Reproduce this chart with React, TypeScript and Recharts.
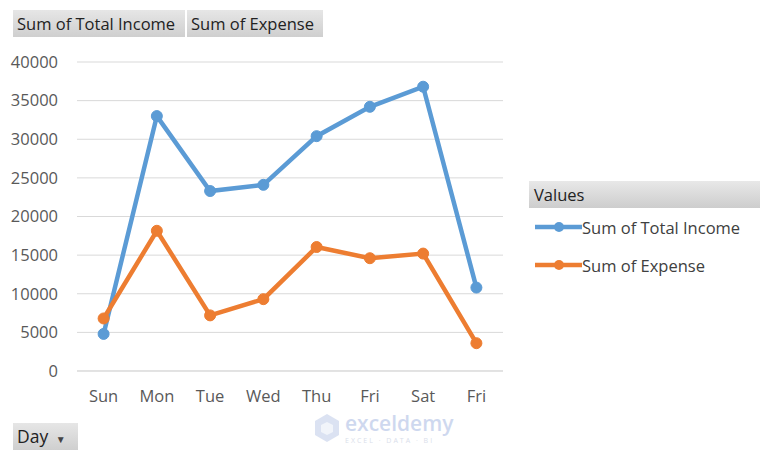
import { LineChart, Line, CartesianGrid, XAxis, YAxis, Legend } from 'recharts';

const days = ['Sun', 'Mon', 'Tue', 'Wed', 'Thu', 'Fri', 'Sat', 'Fri'];
const totalIncome = [4800, 33000, 23300, 24100, 30400, 34200, 36800, 10800];
const expense = [6800, 18150, 7200, 9300, 16050, 14600, 15200, 3600];
const yTicks = [0, 5000, 10000, 15000, 20000, 25000, 30000, 35000, 40000];

const BLUE = '#5b9bd5';
const ORANGE = '#ed7d31';
const FONT = '"Open Sans", "Noto Sans", sans-serif';
const FS = 16.5;

const data = days.map((d, i) => ({ day: d, income: totalIncome[i], expense: expense[i] }));

const buttonStyle = {
    position: 'absolute' as const,
    height: 27,
    background: 'linear-gradient(#e6e6e6, #cfcfcf)',
    color: '#222',
    fontSize: FS,
    lineHeight: '27px',
    paddingLeft: 4,
    boxSizing: 'border-box' as const,
    whiteSpace: 'nowrap' as const,
};

const renderLegend = () => (
    <div style={{ fontFamily: FONT, width: 231 }}>
        <div style={{ height: 27, lineHeight: '27px', background: 'linear-gradient(#e8e8e8, #cdcdcd)', fontSize: FS, color: '#222', paddingLeft: 5 }}>
            Values
        </div>
        {[{ name: 'Sum of Total Income', color: BLUE }, { name: 'Sum of Expense', color: ORANGE }].map((s) => (
            <div key={s.name} style={{ display: 'flex', alignItems: 'center', height: 38 }}>
                <svg width={47} height={12} style={{ marginLeft: 6 }}>
                    <line x1={0} y1={6} x2={47} y2={6} stroke={s.color} strokeWidth={4.5} />
                    <circle cx={24} cy={6} r={5} fill={s.color} />
                </svg>
                <span style={{ fontSize: FS, color: '#404040' }}>{s.name}</span>
            </div>
        ))}
    </div>
);

export default function App() {
    return (
        <div style={{ position: 'absolute', left: 0, top: 0, width: 768, height: 462, background: '#fff', fontFamily: FONT }}>
            <LineChart width={768} height={462} data={data} margin={{ top: 62, right: 265, bottom: 61, left: 17 }}>
                <CartesianGrid vertical={false} stroke="#d9d9d9" />
                <XAxis
                    dataKey="day"
                    padding={{ left: 26.6, right: 26.6 }}
                    axisLine={{ stroke: '#d9d9d9' }}
                    tickLine={false}
                    tickMargin={13}
                    height={30}
                    tick={{ fill: '#595959', fontSize: FS, fontFamily: FONT }}
                />
                <YAxis
                    domain={[0, 40000]}
                    ticks={yTicks}
                    axisLine={false}
                    tickLine={false}
                    tickMargin={13}
                    width={60}
                    interval={0}
                    tick={{ fill: '#595959', fontSize: FS, fontFamily: FONT }}
                />
                <Legend
                    layout="vertical"
                    align="center"
                    verticalAlign="middle"
                    content={renderLegend}
                    wrapperStyle={{ position: 'absolute', left: 529, top: 181, width: 231 }}
                />
                <Line type="linear" dataKey="income" name="Sum of Total Income" stroke={BLUE} strokeWidth={4.5}
                    dot={{ r: 5.5, fill: BLUE, stroke: BLUE, strokeWidth: 1 }} isAnimationActive={false} />
                <Line type="linear" dataKey="expense" name="Sum of Expense" stroke={ORANGE} strokeWidth={4.5}
                    dot={{ r: 5.5, fill: ORANGE, stroke: ORANGE, strokeWidth: 1 }} isAnimationActive={false} />
            </LineChart>

            <div style={{ ...buttonStyle, left: 13, top: 10, width: 172 }}>Sum of Total Income</div>
            <div style={{ ...buttonStyle, left: 187, top: 10, width: 136 }}>Sum of Expense</div>
            <div style={{ ...buttonStyle, left: 13, top: 423, width: 65, fontSize: 17.5 }}>
                Day <span style={{ fontSize: 10, color: '#444', marginLeft: 3 }}>▼</span>
            </div>

            <div style={{ position: 'absolute', left: 313, top: 411, display: 'flex', alignItems: 'center', opacity: 0.5 }}>
                <svg width={28} height={30}>
                    <polygon points="14,1 26,8 26,22 14,29 2,22 2,8" fill="#b8c6e6" />
                    <polygon points="14,9 20,12 20,19 14,22 8,19 8,12" fill="#e4eaf7" />
                </svg>
                <div style={{ marginLeft: 4 }}>
                    <div style={{ fontSize: 21, lineHeight: '25px', color: '#9fb3e0', fontWeight: 600 }}>exceldemy</div>
                    <div style={{ fontSize: 7, lineHeight: '9px', color: '#b5bfd6', letterSpacing: 2 }}>EXCEL · DATA · BI</div>
                </div>
            </div>
        </div>
    );
}
